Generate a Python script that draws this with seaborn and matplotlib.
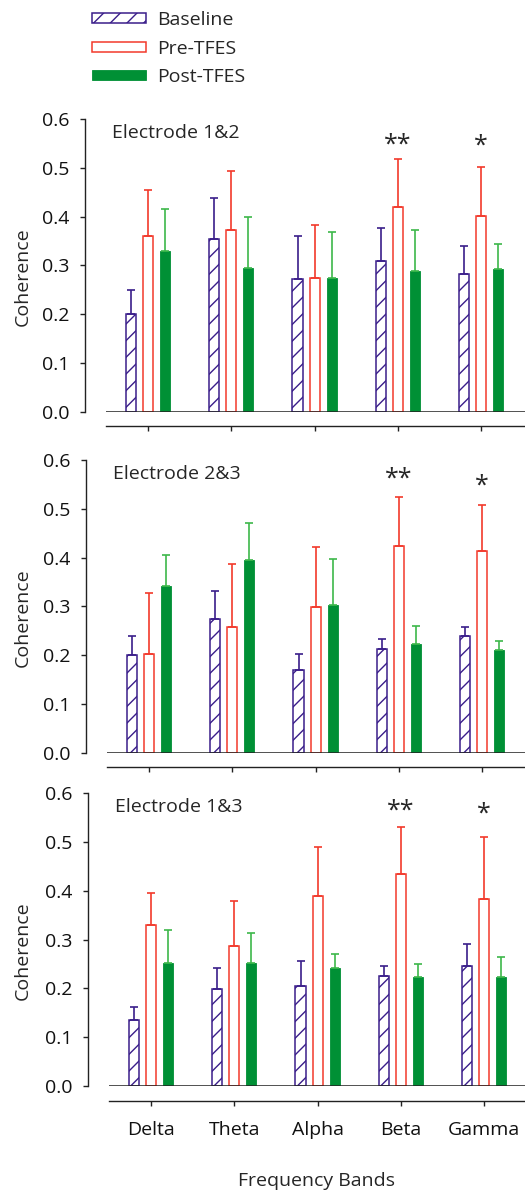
import numpy as np
import pandas as pd
import matplotlib
matplotlib.use("Agg")
import matplotlib.pyplot as plt
import matplotlib.transforms as mtransforms
import seaborn as sns

# Data
bands = ["Delta", "Theta", "Alpha", "Beta", "Gamma"]
conditions = ["Baseline", "Pre-TFES", "Post-TFES"]
panel_titles = ["Electrode 1&2", "Electrode 2&3", "Electrode 1&3"]

e12_base = [0.201, 0.354, 0.271, 0.308, 0.283]
e12_base_err = [0.049, 0.085, 0.089, 0.068, 0.057]
e12_pre = [0.361, 0.372, 0.275, 0.420, 0.401]
e12_pre_err = [0.093, 0.121, 0.107, 0.097, 0.101]
e12_post = [0.330, 0.295, 0.275, 0.288, 0.292]
e12_post_err = [0.085, 0.105, 0.093, 0.085, 0.052]

e23_base = [0.200, 0.274, 0.169, 0.212, 0.240]
e23_base_err = [0.039, 0.057, 0.033, 0.021, 0.018]
e23_pre = [0.203, 0.257, 0.299, 0.424, 0.413]
e23_pre_err = [0.125, 0.129, 0.123, 0.100, 0.094]
e23_post = [0.342, 0.396, 0.303, 0.223, 0.210]
e23_post_err = [0.064, 0.075, 0.095, 0.037, 0.019]

e13_base = [0.136, 0.198, 0.206, 0.225, 0.247]
e13_base_err = [0.026, 0.044, 0.050, 0.020, 0.045]
e13_pre = [0.330, 0.288, 0.390, 0.434, 0.384]
e13_pre_err = [0.065, 0.091, 0.099, 0.097, 0.126]
e13_post = [0.253, 0.253, 0.241, 0.224, 0.224]
e13_post_err = [0.066, 0.061, 0.030, 0.027, 0.040]

sig_bands = ["Beta", "Gamma"]
sig_marks = ["**", "*"]
sig_y = [[0.567, 0.564], [0.581, 0.567], [0.584, 0.577]]

panels = [
    (panel_titles[0], [e12_base, e12_pre, e12_post], [e12_base_err, e12_pre_err, e12_post_err]),
    (panel_titles[1], [e23_base, e23_pre, e23_post], [e23_base_err, e23_pre_err, e23_post_err]),
    (panel_titles[2], [e13_base, e13_pre, e13_post], [e13_base_err, e13_pre_err, e13_post_err]),
]

# Styling
purple = "#3a1e8a"
red = "#f2392b"
green = "#009035"
green_err = "#3db84a"
face_colors = ["white", "white", green]
edge_colors = [purple, red, green]
err_colors = [purple, red, green_err]
hatches = ["//", "", ""]

sns.set_theme(style="ticks")
plt.rcParams["font.family"] = ["Open Sans", "DejaVu Sans"]
plt.rcParams["hatch.linewidth"] = 1.0
FS = 14

W, H = 525, 1191
fig = plt.figure(figsize=(W / 100, H / 100), dpi=100)

# pixel layout of each panel: axes left edge, y pixel of 0.0, height of 0..0.6
panel_left = [106, 107, 109]
panel_y0 = [411.7, 752.7, 1086.0]
span = 292.7
px_per_band = 83.3

axes = []
legend_handles = None
for i, (title, means, errs) in enumerate(panels):
    left = panel_left[i]
    width_px = W - left
    ax = fig.add_axes([left / W, (H - panel_y0[i]) / H, width_px / W, span / H])
    axes.append(ax)

    df = pd.DataFrame({
        "band": np.tile(bands, len(conditions)),
        "condition": np.repeat(conditions, len(bands)),
        "value": np.concatenate(means),
    })
    sns.barplot(data=df, x="band", y="value", hue="condition", order=bands,
                hue_order=conditions, palette=edge_colors, width=0.615, gap=0.41,
                errorbar=None, legend=False, ax=ax)

    bar_conts = list(ax.containers)
    if legend_handles is None:
        legend_handles = bar_conts
    for k, cont in enumerate(bar_conts):
        for bar in cont:
            bar.set_facecolor(face_colors[k])
            bar.set_edgecolor(edge_colors[k])
            bar.set_hatch(hatches[k])
            bar.set_linewidth(1.1 if k < 2 else 0.6)
        xs = [b.get_x() + b.get_width() / 2 for b in cont]
        ys = [b.get_height() for b in cont]
        ax.errorbar(xs, ys, yerr=[np.zeros(len(ys)), errs[k]], fmt="none",
                    ecolor=err_colors[k], elinewidth=1.2, capsize=3.2, capthick=1.2,
                    zorder=1)

    ax.axhline(0, color="#222222", lw=1.1, zorder=5)

    ax.set_ylim(0, 0.6)
    x0 = -0.504
    ax.set_xlim(x0, x0 + width_px / px_per_band)
    ax.set_yticks(np.arange(0, 0.61, 0.1))
    ax.set_yticklabels([f"{v:.1f}" for v in np.arange(0, 0.61, 0.1)])
    ax.set_xticks(range(len(bands)))
    if i == 2:
        ax.set_xticklabels(bands)
        ax.set_xlabel("Frequency Bands", fontsize=FS, labelpad=24)
    else:
        ax.set_xticklabels([])
        ax.set_xlabel("")

    sns.despine(ax=ax, top=True, right=True)
    ax.spines["left"].set_position(("outward", 15))
    ax.spines["bottom"].set_position(("outward", 10.5))
    for sp in ("left", "bottom"):
        ax.spines[sp].set_linewidth(1.0)
        ax.spines[sp].set_color("#222222")
    ax.tick_params(axis="both", direction="out", length=3.6, width=1.0,
                   color="#222222", labelsize=FS, labelcolor="#111111")
    ax.tick_params(axis="y", pad=8)
    ax.tick_params(axis="x", pad=11)

    ax.set_ylabel("Coherence", fontsize=FS)
    ax.yaxis.set_label_coords((32 - left) / width_px, 0.462)

    trans = mtransforms.blended_transform_factory(ax.transAxes, ax.transData)
    ax.text(6 / width_px, 0.571, title, transform=trans, fontsize=FS,
            ha="left", va="center")

    for j, band in enumerate(sig_bands):
        ax.text(bands.index(band), sig_y[i][j] - 0.02, sig_marks[j], fontsize=18,
                ha="center", va="center")

# legend at the top
leg = fig.legend(handles=legend_handles, labels=conditions,
                 loc="upper left", bbox_to_anchor=(92 / W, 1 - 11 / H),
                 frameon=False, fontsize=FS, borderpad=0, borderaxespad=0,
                 handlelength=2.8, handleheight=0.42, handletextpad=0.55,
                 labelspacing=0.55)

fig.savefig("out.png", dpi=100)
